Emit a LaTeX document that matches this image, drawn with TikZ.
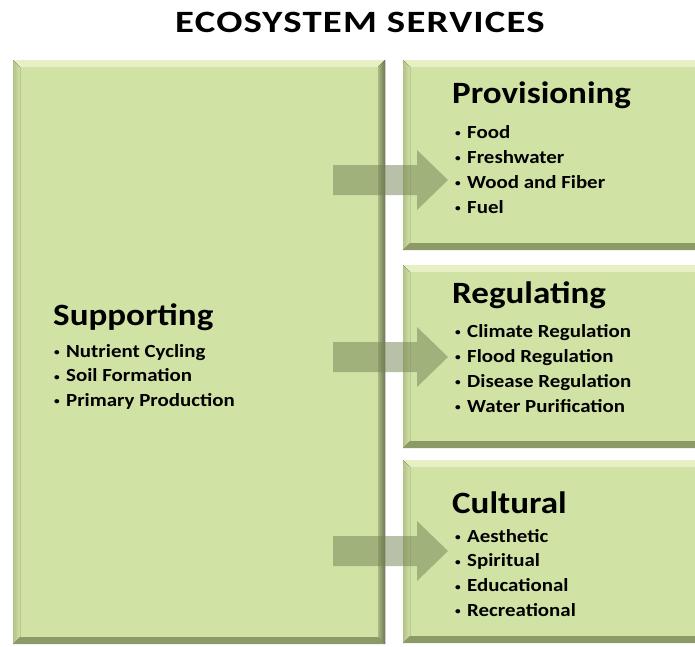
\documentclass[tikz,border=0pt]{standalone}
\usepackage{fontspec}
\setmainfont{Carlito}[FakeStretch=1.13]
\newfontfamily\titlefont{Carlito}[FakeStretch=1.25, LetterSpace=4]
\usetikzlibrary{positioning}

\definecolor{boxgreen}{RGB}{209,226,165}
\definecolor{bevtop}{RGB}{230,240,196}
\definecolor{bevleft}{RGB}{178,194,136}
\definecolor{bevright}{RGB}{108,120,80}
\definecolor{bevbot}{RGB}{140,154,104}
\definecolor{arrowgreen}{RGB}{114,130,82}

\tikzset{
  heading/.style={anchor=base west, inner sep=0pt, font=\fontsize{31}{31}\selectfont\bfseries},
  item/.style={anchor=base west, inner sep=0pt, font=\fontsize{18.5}{18.5}\selectfont\bfseries},
  bigarrow/.style={fill=arrowgreen, fill opacity=0.5, draw=none},
}
\newcommand{\bul}{\makebox[12pt][l]{\raisebox{1.5pt}{\fontsize{10}{10}\selectfont\textbullet}}}

\begin{document}
\begin{tikzpicture}[x=1pt, y=-1pt]
    \useasboundingbox (0,0) rectangle (695,646);
    \clip (0,0) rectangle (695,646);

    % bevelled boxes
    \foreach \xa/\ya/\xb/\yb in {13/60/385/644, 403/60/705/250, 403/265/705/448, 403/460/705/643}{
        \fill[boxgreen] (\xa,\ya) rectangle (\xb,\yb);
        \fill[bevtop] (\xa,\ya) -- (\xb,\ya) -- (\xb-7,\ya+7) -- (\xa+7,\ya+7) -- cycle;
        \fill[left color=bevleft, right color=boxgreen] (\xa,\ya) -- (\xa+7,\ya+7) -- (\xa+7,\yb-7) -- (\xa,\yb) -- cycle;
        \fill[left color=boxgreen!60!bevright, right color=bevright] (\xb,\ya) -- (\xb-7,\ya+7) -- (\xb-7,\yb-7) -- (\xb,\yb) -- cycle;
        \fill[bevbot] (\xa,\yb) -- (\xa+7,\yb-7) -- (\xb-7,\yb-7) -- (\xb,\yb) -- cycle;
    }

    \node[anchor=base, inner sep=0pt, font=\titlefont\fontsize{31}{31}\selectfont\bfseries] (title) at (360,32) {ECOSYSTEM SERVICES};

    % supporting
    \node[heading] (supp) at (53,325) {Supporting};
    \foreach \t [count=\i] in {Nutrient Cycling, Soil Formation, Primary Production}
        \node[item] (supp-\i) at (54,332.5+24.5*\i) {\bul\t};

    % provisioning
    \node[heading] (prov) at (452,103) {Provisioning};
    \foreach \t [count=\i] in {Food, Freshwater, Wood and Fiber, Fuel}
        \node[item] (prov-\i) at (455,113+25*\i) {\bul\t};

    % regulating
    \node[heading] (regu) at (452,303) {Regulating};
    \foreach \t [count=\i] in {Climate Regulation, Flood Regulation, Disease Regulation, Water Purification}
        \node[item] (regu-\i) at (455,312+25*\i) {\bul\t};

    % cultural
    \node[heading] (cult) at (452,513) {Cultural};
    \foreach \t [count=\i] in {Aesthetic, Spiritual, Educational, Recreational}
        \node[item] (cult-\i) at (455,517.5+24.7*\i) {\bul\t};

    % arrows
    \foreach \c in {180,357,551}
        \fill[bigarrow] (333,\c-15) -- (417,\c-15) -- (417,\c-30) -- (448,\c)
            -- (417,\c+30) -- (417,\c+15) -- (333,\c+15) -- cycle;
\end{tikzpicture}
\end{document}
